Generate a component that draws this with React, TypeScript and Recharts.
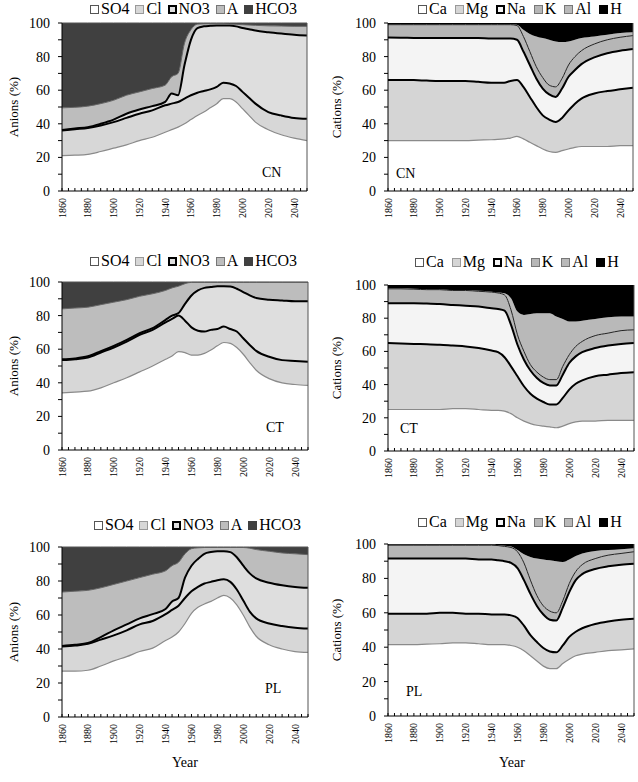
import { AreaChart, Area, XAxis, YAxis, ReferenceLine } from "recharts"

const FONT = '"Liberation Serif", "Times New Roman", serif'

const years = [1860, 1870, 1880, 1890, 1900, 1910, 1920, 1930, 1940, 1945, 1950, 1955, 1960, 1965, 1970, 1975, 1980, 1985, 1990, 1995, 2000, 2005, 2010, 2020, 2030, 2040, 2050]

const yearTicks = [1860, 1865, 1870, 1875, 1880, 1885, 1890, 1895, 1900, 1905, 1910, 1915, 1920, 1925, 1930, 1935, 1940, 1945, 1950, 1955, 1960, 1965, 1970, 1975, 1980, 1985, 1990, 1995, 2000, 2005, 2010, 2015, 2020, 2025, 2030, 2035, 2040, 2045, 2050]
const percentTicks = [0, 10, 20, 30, 40, 50, 60, 70, 80, 90, 100]

// CN site, anions (% of total)
const cnSO4 = [21, 21.3, 21.8, 23.5, 25.5, 27.5, 30, 32, 35, 36.5, 38, 40, 42.5, 45, 47, 49.5, 52, 55, 55, 53, 49, 45, 41, 36.5, 33.5, 31.5, 30]
const cnCl = [15, 15.5, 15.7, 15.5, 15.5, 16, 16, 16, 16, 15.5, 15, 15, 14.5, 13.5, 12.5, 11, 10, 9.5, 9, 9.5, 10, 10.5, 11, 10.5, 11.5, 12, 13]
const cnNO3 = [0.3, 0.4, 0.5, 1, 1.5, 2.5, 2.5, 2.5, 2, 6, 4, 20, 33, 38.5, 38.5, 37.8, 36.5, 34, 34.5, 35.5, 38, 40.8, 43.5, 47.5, 48.7, 49.5, 49.5]
const cnA = [13.2, 12.6, 12.5, 12, 11.5, 11, 10.5, 10.5, 10, 10, 13, 13, 6, 2.3, 1.5, 1.2, 1, 1, 0.8, 1.2, 2, 2.5, 3.1, 3.8, 4.5, 5, 5.5]
const cnHCO3 = [50.5, 50.2, 49.5, 48, 46, 43, 41, 39, 37, 32, 30, 12, 4, 0.7, 0.5, 0.5, 0.5, 0.5, 0.7, 0.8, 1, 1.2, 1.4, 1.7, 1.8, 2, 2]

// CN site, cations
const cnCa = [30, 30, 30, 30, 30, 30, 30, 30.3, 30.5, 30.7, 31, 31.5, 32.5, 31, 29, 27, 25, 23.5, 23, 24, 25, 26, 26.5, 26.5, 26.5, 27, 27]
const cnMg = [36, 36, 36, 35.7, 35.5, 35.5, 35.5, 34.7, 34, 33.8, 33.5, 34, 33.5, 31, 27, 23, 20, 19, 18, 19.5, 23, 26, 28.5, 31.5, 33, 33.5, 34.5]
const cnNa = [25.3, 25.2, 25.1, 25.3, 25.5, 25.5, 25.5, 26, 26.2, 26.2, 26.2, 25.2, 24, 21, 19, 17, 16, 15, 15, 17.5, 20, 20, 20.5, 21.5, 22.5, 23, 23]
const cnK = [7.7, 7.8, 7.9, 8, 8, 8, 8, 8, 8.3, 8.3, 8.3, 8.3, 8.5, 9, 8, 7, 6.5, 5.5, 6, 6, 7, 8, 8, 8, 8, 8, 8]
const cnAl = [0.3, 0.3, 0.3, 0.3, 0.3, 0.3, 0.3, 0.3, 0.3, 0.3, 0.3, 0.3, 0.5, 4, 10.5, 18, 23.5, 27, 27, 21.7, 14, 10, 7.5, 4.5, 3, 2.5, 2]
const cnH = [0.7, 0.7, 0.7, 0.7, 0.7, 0.7, 0.7, 0.7, 0.7, 0.7, 0.7, 0.7, 1, 4, 6.5, 8, 9, 10, 11, 11.3, 11, 10, 9, 8, 7, 6, 5.5]

// CT site, anions
const ctSO4 = [34, 34.5, 35, 37, 40, 43, 46.5, 50, 54, 56, 58.5, 58, 56.5, 56.5, 57.5, 59.5, 62, 64, 63.5, 61, 57, 52, 47.5, 42.5, 40, 39, 38.5]
const ctCl = [19.5, 19.5, 20, 21, 21, 21.5, 22, 21.5, 22, 22, 21.5, 19, 16.5, 14.5, 13, 12, 10, 9.5, 8.5, 9.5, 9.5, 10.5, 11.5, 13, 13.5, 14, 14]
const ctNO3 = [0.5, 0.5, 0.8, 0.8, 1, 1, 1, 1, 1.5, 2, 1.5, 10, 19, 24, 26, 25.5, 25.5, 24, 25.3, 25.5, 27.5, 29.5, 31.5, 34, 35.5, 35.5, 36]
const ctA = [30, 30, 29.2, 27.7, 26, 24, 22, 20.5, 17.5, 16.5, 16, 12, 7.8, 4.8, 3.3, 2.8, 2.3, 2.3, 2.5, 3.8, 5.8, 7.8, 9.3, 10.3, 10.8, 11.3, 11.3]
const ctHCO3 = [16, 15.5, 15, 13.5, 12, 10.5, 8.5, 7, 5, 3.5, 2.5, 1, 0.2, 0.2, 0.2, 0.2, 0.2, 0.2, 0.2, 0.2, 0.2, 0.2, 0.2, 0.2, 0.2, 0.2, 0.2]

// CT site, cations
const ctCa = [25, 25, 25, 25, 25, 25.5, 25.5, 25, 24.5, 24.5, 24, 22.5, 20, 18, 16.5, 15.5, 15, 14.5, 14, 15, 16.5, 17.5, 18, 18, 18.5, 18.5, 18.5]
const ctMg = [40, 39.8, 39.5, 39.3, 39, 38, 37.5, 37, 36, 35, 32.5, 28.5, 25, 21, 18, 16, 14.5, 13.5, 14, 17, 20.5, 23, 24.5, 27, 27.5, 28.5, 29]
const ctNa = [24, 24.2, 24.5, 24.5, 24.5, 24.5, 24.5, 25, 25.5, 26, 28, 25, 19, 16, 14, 12.5, 11.5, 11.5, 11.5, 14, 16, 16.5, 17, 17, 17.5, 17.5, 17.5]
const ctK = [8.7, 8.7, 8.5, 8.4, 8.7, 8.7, 9.2, 9.2, 9.7, 9.7, 9.5, 9, 6, 5, 3.5, 3.5, 3.5, 3.5, 3.5, 5, 5, 6, 6.5, 7.5, 7.5, 8, 8]
const ctAl = [0.3, 0.3, 0.3, 0.3, 0.3, 0.3, 0.3, 0.3, 0.3, 0.3, 1, 7, 14, 22, 30.5, 35.5, 38.5, 40, 38, 28.5, 20, 15, 12.5, 10, 9.5, 8.5, 8]
const ctH = [2, 2, 2.2, 2.5, 2.5, 3, 3, 3.5, 4, 4.5, 5, 8, 16, 18, 17.5, 17, 17, 17, 19, 20.5, 22, 22, 21.5, 20.5, 19.5, 19, 19]

// PL site, anions
const plSO4 = [27, 27, 27.5, 30, 33, 35.5, 38.5, 40.5, 45, 47, 50, 55, 61, 64.5, 66.5, 68, 70, 71.5, 70, 66, 60, 53, 47.5, 42.5, 40, 38.5, 38]
const plCl = [14.5, 15, 15.5, 15.5, 15, 15.5, 16, 16, 15.5, 16, 15.5, 15, 13, 12, 12, 11.5, 10.5, 9.5, 9.5, 9, 8.5, 9, 10.5, 12.5, 13.5, 14, 14]
const plNO3 = [0.3, 0.5, 0.5, 1.5, 3, 3.5, 3.5, 4, 3, 5, 4.5, 12, 15, 16.5, 17.5, 17.5, 17, 16.5, 17.5, 19, 20.5, 22.5, 23.5, 24, 24, 24, 24]
const plA = [31.7, 31.5, 31, 29, 27, 25.5, 24, 23.5, 22.5, 21, 21, 14, 10, 6.5, 3.7, 2.7, 2.2, 2.2, 2.7, 5.7, 10.7, 14.8, 17, 18.5, 19, 19.5, 19.5]
const plHCO3 = [26.5, 26, 25.5, 24, 22, 20, 18, 16, 14, 11, 9, 4, 1, 0.5, 0.3, 0.3, 0.3, 0.3, 0.3, 0.3, 0.3, 0.7, 1.5, 2.5, 3.5, 4, 4.5]

// PL site, cations
const plCa = [41.5, 41.5, 41.5, 41.8, 42, 42.5, 42.5, 42, 41.5, 41.5, 41.5, 41, 40, 38, 35, 32, 29, 27.5, 27.5, 30.5, 33, 35, 36, 37, 38, 38.5, 39]
const plMg = [18, 18, 18, 17.7, 18, 17.5, 17, 17.5, 17.5, 17.5, 17.5, 17.5, 17, 14.5, 12, 11, 10.5, 10, 9.5, 10.5, 13, 14, 15, 16.5, 17, 17.5, 17.5]
const plNa = [32, 32, 32, 32, 31.5, 31.5, 32, 31.5, 32, 31.5, 31, 30.5, 29, 26.5, 24, 21, 19.5, 18.5, 18.5, 22, 26, 30, 31.5, 32, 32, 32, 32]
const plK = [7.8, 7.8, 7.8, 7.8, 7.8, 7.8, 7.8, 8.3, 8.3, 8.6, 8.6, 9, 9.5, 10, 8, 6, 5, 5, 4.5, 4, 5, 5, 5.5, 6, 6.5, 6.5, 7]
const plAl = [0.2, 0.2, 0.2, 0.2, 0.2, 0.2, 0.2, 0.2, 0.2, 0.2, 0.4, 0.5, 1, 5, 13.5, 21.5, 27, 29.5, 30, 22.5, 14, 9, 6.5, 4.5, 3, 2.5, 2]
const plH = [0.5, 0.5, 0.5, 0.5, 0.5, 0.5, 0.5, 0.5, 0.5, 0.7, 1, 1.5, 3.5, 6, 7.5, 8.5, 9, 9.5, 10, 10.5, 9, 7, 5.5, 4, 3.5, 3, 2.5]

type Species = {
  key: string
  fill: string
  stroke: string
  strokeWidth: number
  border: string
  borderWidth: number
}

const anionSpecies: Species[] = [
  { key: "SO4", fill: "#ffffff", stroke: "#8a8a8a", strokeWidth: 1.2, border: "#555", borderWidth: 1 },
  { key: "Cl", fill: "#d7d7d7", stroke: "#000", strokeWidth: 2, border: "#999", borderWidth: 1 },
  { key: "NO3", fill: "#dedede", stroke: "#000", strokeWidth: 2, border: "#000", borderWidth: 2 },
  { key: "A", fill: "#bdbdbd", stroke: "#666", strokeWidth: 1, border: "#777", borderWidth: 1 },
  { key: "HCO3", fill: "#404040", stroke: "#555", strokeWidth: 1, border: "#404040", borderWidth: 1 },
]

const cationSpecies: Species[] = [
  { key: "Ca", fill: "#ffffff", stroke: "#8a8a8a", strokeWidth: 1.2, border: "#555", borderWidth: 1 },
  { key: "Mg", fill: "#d5d5d5", stroke: "#000", strokeWidth: 2, border: "#999", borderWidth: 1 },
  { key: "Na", fill: "#f4f4f4", stroke: "#000", strokeWidth: 2, border: "#000", borderWidth: 2 },
  { key: "K", fill: "#b6b6b6", stroke: "#222", strokeWidth: 1, border: "#777", borderWidth: 1 },
  { key: "Al", fill: "#b9b9b9", stroke: "none", strokeWidth: 0, border: "#777", borderWidth: 1 },
  { key: "H", fill: "#000000", stroke: "none", strokeWidth: 0, border: "#000", borderWidth: 1 },
]

function buildRows(series: Record<string, number[]>) {
  return years.map((year, i) => {
    const row: Record<string, number> = { year }
    for (const k of Object.keys(series)) row[k] = series[k][i]
    return row
  })
}

const cnAnions = buildRows({ SO4: cnSO4, Cl: cnCl, NO3: cnNO3, A: cnA, HCO3: cnHCO3 })
const cnCations = buildRows({ Ca: cnCa, Mg: cnMg, Na: cnNa, K: cnK, Al: cnAl, H: cnH })
const ctAnions = buildRows({ SO4: ctSO4, Cl: ctCl, NO3: ctNO3, A: ctA, HCO3: ctHCO3 })
const ctCations = buildRows({ Ca: ctCa, Mg: ctMg, Na: ctNa, K: ctK, Al: ctAl, H: ctH })
const plAnions = buildRows({ SO4: plSO4, Cl: plCl, NO3: plNO3, A: plA, HCO3: plHCO3 })
const plCations = buildRows({ Ca: plCa, Mg: plMg, Na: plNa, K: plK, Al: plAl, H: plH })

function YearTick(props: any) {
  const { x, y, payload } = props
  const axisY = y - 5
  return (
    <g>
      <line x1={x} x2={x} y1={axisY} y2={axisY - 3} stroke="#000" />
      {payload.value % 20 === 0 && (
        <text
          x={x}
          y={y + 2}
          transform={`rotate(-90 ${x} ${y + 2})`}
          textAnchor="end"
          dy="0.35em"
          fontSize={10}
          fontFamily={FONT}
          fill="#000"
        >
          {payload.value}
        </text>
      )}
    </g>
  )
}

interface PanelProps {
  left: number
  plotTop: number
  plotHeight: number
  width: number
  marginLeft: number
  marginRight: number
  species: Species[]
  rows: Record<string, number>[]
}

function Panel({ left, plotTop, plotHeight, width, marginLeft, marginRight, species, rows }: PanelProps) {
  return (
    <div style={{ position: "absolute", left, top: plotTop - 10 }}>
      <AreaChart
        width={width}
        height={plotHeight + 50}
        data={rows}
        margin={{ top: 10, right: marginRight, left: marginLeft, bottom: 0 }}
      >
        <XAxis
          dataKey="year"
          type="number"
          domain={[1860, 2050]}
          ticks={yearTicks}
          interval={0}
          height={40}
          tickSize={0}
          tickMargin={5}
          tickLine={false}
          axisLine={{ stroke: "#000" }}
          tick={<YearTick />}
        />
        <YAxis
          type="number"
          domain={[0, 100]}
          ticks={percentTicks}
          interval={0}
          width={60}
          tickSize={4}
          tickMargin={8}
          tickLine={{ stroke: "#000" }}
          axisLine={{ stroke: "#000" }}
          tickFormatter={(v: number) => (v % 20 === 0 ? String(v) : "")}
          tick={{ fontSize: 14, fontFamily: FONT, fill: "#000" }}
        />
        {species.map((s) => (
          <Area
            key={"fill-" + s.key}
            type="monotone"
            dataKey={s.key}
            stackId="fill"
            fill={s.fill}
            fillOpacity={1}
            stroke="none"
            isAnimationActive={false}
          />
        ))}
        {species.map((s) => (
          <Area
            key={"line-" + s.key}
            type="monotone"
            dataKey={s.key}
            stackId="line"
            fill="none"
            stroke={s.stroke}
            strokeWidth={s.strokeWidth}
            isAnimationActive={false}
          />
        ))}
        <ReferenceLine x={2050} stroke="#555" strokeWidth={1} />
      </AreaChart>
    </div>
  )
}

function LegendRow({ left, top, gap, species }: { left: number; top: number; gap: number; species: Species[] }) {
  return (
    <div
      style={{
        position: "absolute",
        left,
        top,
        display: "flex",
        alignItems: "center",
        fontFamily: FONT,
        fontSize: 16,
        lineHeight: "16px",
        whiteSpace: "nowrap",
        color: "#000",
      }}
    >
      {species.map((s) => (
        <span key={s.key} style={{ display: "flex", alignItems: "center", marginRight: gap }}>
          <span
            style={{
              width: 9,
              height: 9,
              boxSizing: "border-box",
              border: `${s.borderWidth}px solid ${s.border}`,
              background: s.fill,
              marginRight: 2,
            }}
          />
          {s.key}
        </span>
      ))}
    </div>
  )
}

export default function App() {
  const textStyle = { fontFamily: FONT, fill: "#000" }
  return (
    <div style={{ position: "absolute", left: 0, top: 0, width: 638, height: 782, background: "#fff" }}>
      <Panel left={0} plotTop={23} plotHeight={168} width={318} marginLeft={2} marginRight={11} species={anionSpecies} rows={cnAnions} />
      <Panel left={318} plotTop={23} plotHeight={168} width={320} marginLeft={10} marginRight={5} species={cationSpecies} rows={cnCations} />
      <Panel left={0} plotTop={282} plotHeight={168} width={318} marginLeft={2} marginRight={10} species={anionSpecies} rows={ctAnions} />
      <Panel left={318} plotTop={285} plotHeight={166} width={320} marginLeft={10} marginRight={4} species={cationSpecies} rows={ctCations} />
      <Panel left={0} plotTop={547} plotHeight={170} width={318} marginLeft={2} marginRight={10} species={anionSpecies} rows={plAnions} />
      <Panel left={318} plotTop={544} plotHeight={172} width={320} marginLeft={10} marginRight={4} species={cationSpecies} rows={plCations} />

      <LegendRow left={90} top={1} gap={6} species={anionSpecies} />
      <LegendRow left={418} top={1} gap={8} species={cationSpecies} />
      <LegendRow left={90} top={253} gap={6} species={anionSpecies} />
      <LegendRow left={415} top={254} gap={8} species={cationSpecies} />
      <LegendRow left={94} top={517} gap={6} species={anionSpecies} />
      <LegendRow left={418} top={514} gap={8} species={cationSpecies} />

      <svg width={638} height={782} style={{ position: "absolute", left: 0, top: 0, pointerEvents: "none" }}>
        <g fontSize={13} style={textStyle}>
          <text transform="rotate(-90 13 107)" x={13} y={107} textAnchor="middle" dy="0.35em">Anions (%)</text>
          <text transform="rotate(-90 13 366)" x={13} y={366} textAnchor="middle" dy="0.35em">Anions (%)</text>
          <text transform="rotate(-90 13 632)" x={13} y={632} textAnchor="middle" dy="0.35em">Anions (%)</text>
          <text transform="rotate(-90 336 107)" x={336} y={107} textAnchor="middle" dy="0.35em">Cations (%)</text>
          <text transform="rotate(-90 336 368)" x={336} y={368} textAnchor="middle" dy="0.35em">Cations (%)</text>
          <text transform="rotate(-90 336 630)" x={336} y={630} textAnchor="middle" dy="0.35em">Cations (%)</text>
        </g>
        <g fontSize={14} style={textStyle}>
          <text x={262} y={177}>CN</text>
          <text x={396} y={178}>CN</text>
          <text x={266} y={432}>CT</text>
          <text x={400} y={433}>CT</text>
          <text x={265} y={693}>PL</text>
          <text x={406} y={696}>PL</text>
          <text x={185} y={767} textAnchor="middle">Year</text>
          <text x={512} y={767} textAnchor="middle">Year</text>
        </g>
      </svg>
    </div>
  )
}
